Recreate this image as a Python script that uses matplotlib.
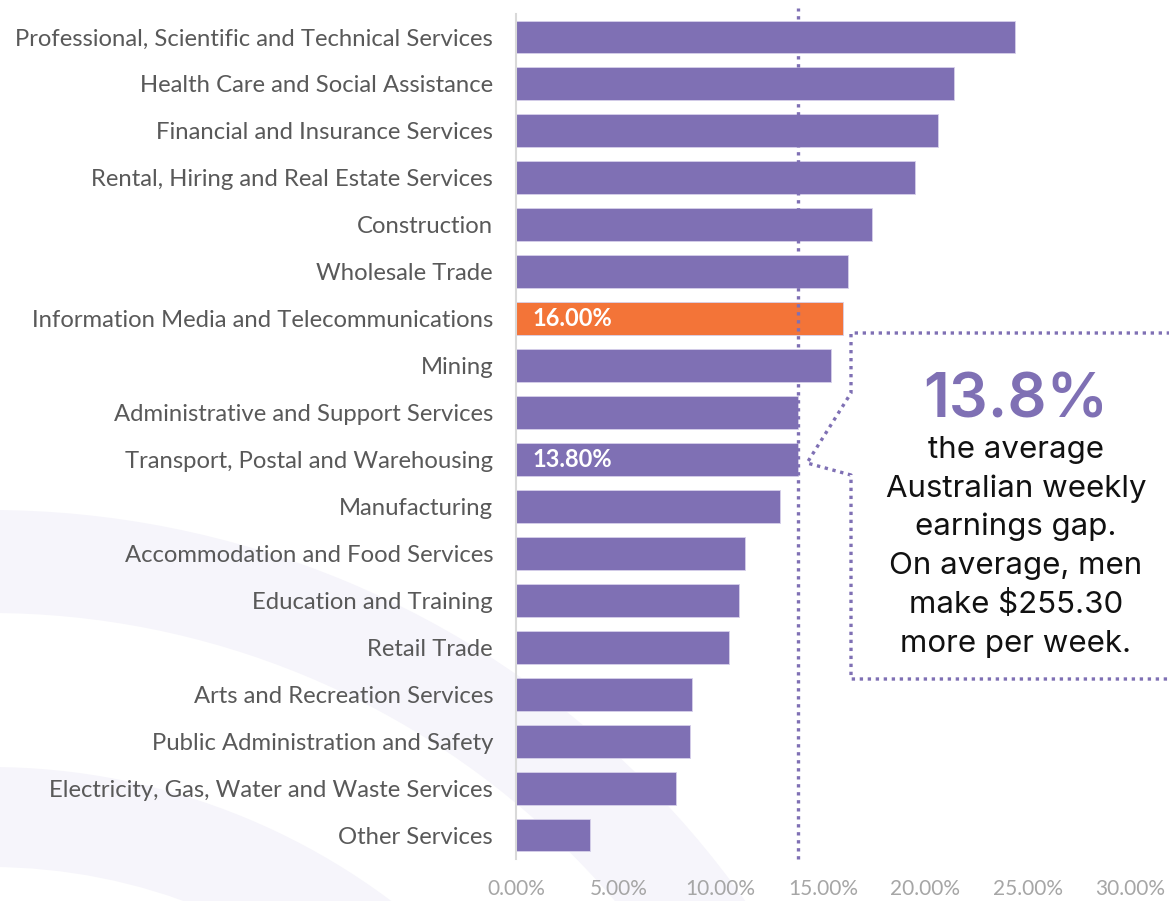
import matplotlib
matplotlib.use("Agg")
import matplotlib.pyplot as plt
from matplotlib.patches import Wedge

plt.rcParams["font.family"] = ["Lato", "DejaVu Sans"]

# Gender pay gap by industry (% of men's average weekly earnings)
industries = [
    "Professional, Scientific and Technical Services",
    "Health Care and Social Assistance",
    "Financial and Insurance Services",
    "Rental, Hiring and Real Estate Services",
    "Construction",
    "Wholesale Trade",
    "Information Media and Telecommunications",
    "Mining",
    "Administrative and Support Services",
    "Transport, Postal and Warehousing",
    "Manufacturing",
    "Accommodation and Food Services",
    "Education and Training",
    "Retail Trade",
    "Arts and Recreation Services",
    "Public Administration and Safety",
    "Electricity, Gas, Water and Waste Services",
    "Other Services",
]
gap_pct = [24.4, 21.4, 20.6, 19.5, 17.4, 16.2, 16.0, 15.4, 13.8, 13.8,
           12.9, 11.2, 10.9, 10.4, 8.6, 8.5, 7.8, 3.6]

highlighted = "Information Media and Telecommunications"
labelled = ["Information Media and Telecommunications",
            "Transport, Postal and Warehousing"]

average_gap = 13.8
x_ticks = [0, 5, 10, 15, 20, 25, 30]
x_tick_labels = ["0.00%", "5.00%", "10.00%", "15.00%", "20.00%", "25.00%", "30.00%"]

callout_headline = "13.8%"
callout_lines = ["the average", "Australian weekly", "earnings gap.",
                 "On average, men", "make $255.30", "more per week."]

PURPLE = "#7f70b4"
ORANGE = "#f37438"
LABEL_GREY = "#595959"
TICK_GREY = "#a6a6a6"
SWOOSH = "#f6f5fb"

W, H = 1169, 901
fig = plt.figure(figsize=(W / 100, H / 100), dpi=100)
fig.patch.set_facecolor("white")

# Soft background arcs (pixel coordinates, y pointing down)
bg = fig.add_axes([0, 0, 1, 1], zorder=0)
bg.set_xlim(0, W)
bg.set_ylim(H, 0)
bg.axis("off")
for r_out, r_in in [(925, 822), (668, 568)]:
    bg.add_patch(Wedge((-10, 1435), r_out, 0, 360, width=r_out - r_in,
                       facecolor=SWOOSH, edgecolor="none"))

# Main bar chart
ax = fig.add_axes([516 / W, (H - 858.5) / H, 614 / W, 845 / H], zorder=1)
ax.set_facecolor("none")
ypos = list(range(len(industries)))
colors = [ORANGE if name == highlighted else PURPLE for name in industries]
bars = ax.barh(ypos, gap_pct, height=0.70, color=colors,
               edgecolor="#d6d0ea", linewidth=0.6, zorder=2)

for bar, name, val in zip(bars, industries, gap_pct):
    if name in labelled:
        ax.text(0.8, bar.get_y() + bar.get_height() / 2, f"{val:.2f}%",
                color="white", fontsize=17, fontweight="bold",
                va="center", ha="left", zorder=3)

ax.axvline(average_gap, color=PURPLE, lw=2.4, linestyle=(0, (1, 1.4)),
           zorder=4, ymax=1.007, clip_on=False)

ax.set_xlim(0, 30)
ax.set_ylim(len(industries) - 0.5, -0.5)
ax.set_yticks(ypos)
ax.set_yticklabels(industries, fontsize=17.2, color=LABEL_GREY)
ax.set_xticks(x_ticks)
ax.set_xticklabels(x_tick_labels, fontsize=15, color=TICK_GREY)
ax.tick_params(axis="y", length=0, pad=16.5)
ax.tick_params(axis="x", length=0, pad=15)
for side in ["top", "right", "bottom"]:
    ax.spines[side].set_visible(False)
ax.spines["left"].set_color("#d9d9d9")
ax.spines["left"].set_linewidth(1.5)

# Callout box with pointer towards the average
ov = fig.add_axes([0, 0, 1, 1], zorder=3)
ov.set_xlim(0, W)
ov.set_ylim(H, 0)
ov.axis("off")
ov.set_facecolor("none")
bx = [1180, 851, 851, 807, 851, 851, 1180]
by = [333, 333, 393, 463, 475, 679, 679]
ov.plot(bx, by, color=PURPLE, lw=2.4, linestyle=(0, (1, 1.4)),
        solid_joinstyle="miter")

cx = 1016
ov.text(cx, 417, callout_headline, family=["Inter", "DejaVu Sans"],
        fontsize=44, fontweight="semibold", color=PURPLE,
        ha="center", va="baseline")
for i, line in enumerate(callout_lines):
    ov.text(cx, 458 + i * 38.7, line, family=["Inter", "DejaVu Sans"],
            fontsize=22.5, color="#111111", ha="center", va="baseline")

fig.savefig("out.png", dpi=100, facecolor="white")
